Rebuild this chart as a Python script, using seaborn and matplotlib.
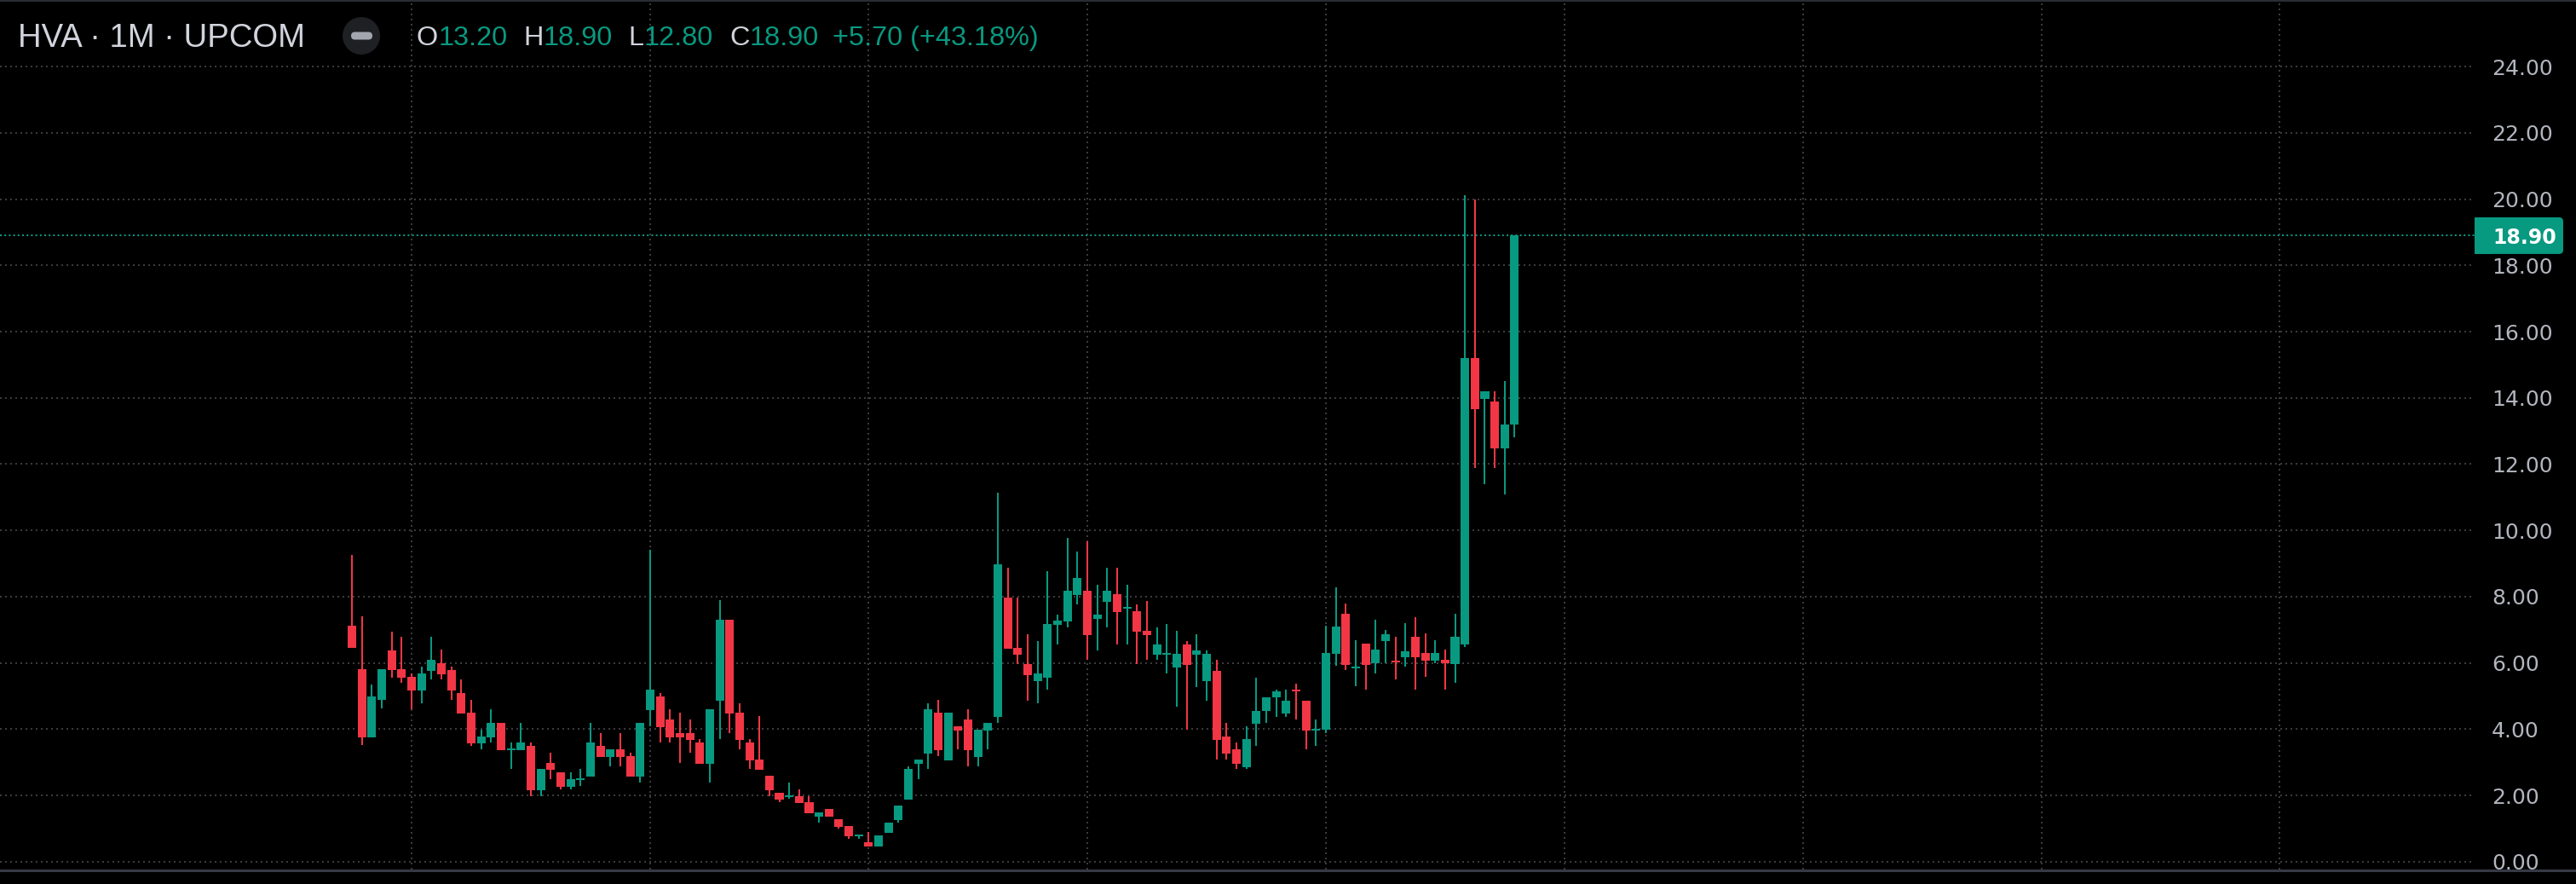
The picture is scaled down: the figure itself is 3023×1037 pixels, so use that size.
import matplotlib
matplotlib.use("Agg")
import matplotlib.pyplot as plt
import matplotlib.transforms as mtransforms
from matplotlib.patches import Circle, FancyBboxPatch, Rectangle
from matplotlib.lines import Line2D
import seaborn as sns
import numpy as np
import pandas as pd

# ---------------- data (monthly OHLC) ----------------
opens = [7.12, 5.81, 3.75, 4.88, 6.38, 5.81, 5.58, 5.17, 5.76, 5.99,
         5.79, 5.09, 4.50, 3.57, 3.75, 4.19, 3.39, 3.36, 3.49, 2.15,
         2.98, 2.70, 2.26, 2.49, 2.57, 3.49, 3.16, 3.39, 3.18, 2.57,
         4.58, 4.99, 4.29, 3.88, 3.88, 3.60, 2.95, 4.86, 7.30, 4.50,
         3.60, 3.08, 2.59, 2.08, 1.98, 1.97, 1.79, 1.36, 1.59, 1.28,
         1.07, 0.76, 0.58, 0.45, 0.87, 1.25, 1.87, 2.95, 3.26, 4.50,
         3.06, 4.09, 4.29, 3.16, 3.96, 4.36, 7.97, 6.46, 5.97, 5.46,
         5.54, 7.15, 7.26, 8.05, 8.18, 7.33, 7.85, 8.08, 7.67, 7.56,
         6.97, 6.26, 6.28, 5.85, 6.56, 6.26, 5.46, 5.77, 3.77, 3.38,
         2.85, 4.15, 4.56, 4.95, 4.46, 5.18, 4.87, 3.98, 3.97, 6.28,
         7.49, 5.85, 6.59, 5.98, 6.65, 6.07, 6.17, 6.79, 6.30, 6.06,
         6.09, 5.97, 6.56, 15.21, 13.98, 13.90, 12.48, 13.20]
highs = [9.26, 7.40, 5.35, 5.81, 6.94, 6.79, 5.68, 5.89, 6.79, 6.40,
         5.89, 5.50, 4.88, 3.99, 4.60, 4.19, 3.60, 4.19, 3.60, 2.80,
         3.29, 2.70, 2.70, 2.80, 4.19, 3.88, 3.39, 3.88, 3.29, 4.19,
         9.42, 5.09, 4.60, 4.50, 4.29, 3.70, 4.60, 7.90, 7.30, 4.78,
         3.70, 4.39, 2.59, 2.08, 2.39, 2.18, 1.97, 1.48, 1.59, 1.28,
         1.07, 0.82, 0.89, 0.79, 1.18, 1.69, 2.88, 3.08, 4.78, 4.88,
         4.50, 4.09, 4.60, 3.98, 4.19, 11.15, 8.87, 7.97, 6.87, 6.67,
         8.77, 7.46, 9.77, 9.36, 9.67, 8.36, 8.87, 8.87, 8.36, 7.77,
         7.87, 7.08, 7.18, 6.97, 6.67, 6.87, 6.38, 6.08, 4.18, 3.59,
         4.08, 5.56, 4.97, 5.18, 5.18, 5.38, 4.87, 4.28, 7.11, 8.28,
         7.80, 6.68, 6.59, 7.30, 6.99, 6.79, 7.21, 7.38, 6.90, 6.68,
         6.40, 7.49, 20.11, 20.00, 14.21, 14.21, 14.52, 18.90]
lows = [6.45, 3.52, 3.75, 4.63, 5.55, 5.40, 4.60, 4.78, 5.50, 5.50,
        4.88, 4.47, 3.49, 3.39, 3.60, 3.36, 2.80, 3.36, 1.97, 1.97,
        2.49, 2.18, 2.18, 2.28, 2.57, 3.16, 2.88, 2.88, 2.57, 2.39,
        4.09, 3.60, 3.60, 2.98, 3.29, 2.95, 2.39, 3.70, 3.88, 3.39,
        2.80, 2.77, 1.97, 1.79, 1.90, 1.77, 1.46, 1.18, 1.36, 1.00,
        0.69, 0.69, 0.45, 0.45, 0.87, 1.18, 1.87, 2.49, 2.80, 3.18,
        3.06, 3.39, 2.88, 2.88, 3.39, 4.18, 6.44, 5.97, 4.87, 4.77,
        5.18, 6.56, 7.08, 7.77, 6.08, 6.38, 7.08, 6.56, 6.56, 5.97,
        6.08, 6.08, 5.67, 4.67, 3.97, 5.28, 4.87, 3.08, 3.08, 2.79,
        2.79, 3.49, 4.18, 4.38, 4.38, 4.28, 3.38, 3.49, 3.88, 5.90,
        5.79, 5.29, 5.19, 5.68, 5.99, 5.49, 5.89, 5.19, 5.58, 5.99,
        5.19, 5.40, 6.48, 11.89, 11.39, 11.89, 11.08, 12.80]
closes = [6.45, 3.75, 4.99, 5.81, 5.79, 5.55, 5.17, 5.68, 6.09, 5.66,
          5.17, 4.47, 3.57, 3.78, 4.19, 3.36, 3.39, 3.60, 2.15, 2.80,
          2.77, 2.26, 2.49, 2.49, 3.60, 3.16, 3.39, 3.16, 2.57, 4.19,
          5.19, 4.06, 3.75, 3.75, 3.67, 2.95, 4.60, 7.30, 4.47, 3.67,
          3.06, 2.77, 2.15, 1.87, 1.98, 1.77, 1.46, 1.48, 1.36, 1.05,
          0.76, 0.82, 0.45, 0.79, 1.18, 1.69, 2.80, 3.08, 4.60, 3.36,
          4.50, 3.96, 3.36, 3.98, 4.19, 8.97, 6.44, 6.26, 5.64, 5.67,
          7.18, 7.28, 8.18, 8.56, 6.85, 7.46, 8.18, 7.54, 7.67, 6.95,
          6.85, 6.56, 6.28, 6.28, 5.95, 6.38, 6.28, 3.67, 3.26, 2.95,
          3.69, 4.56, 4.97, 5.15, 4.85, 5.16, 3.95, 3.98, 6.30, 7.10,
          5.95, 5.85, 5.95, 6.40, 6.87, 6.02, 6.36, 6.17, 6.06, 6.30,
          5.98, 6.79, 15.21, 13.67, 14.21, 12.48, 13.20, 18.90]

price_ticks = [0, 2, 4, 6, 8, 10, 12, 14, 16, 18, 20, 22, 24]
price_labels = [f"{v:.2f}" for v in price_ticks]
time_grid = [6, 30, 52, 74, 98, 122, 146, 170, 194]   # year boundaries (bar index)
symbol_text = "HVA · 1M · UPCOM"
last_price = 18.90
prev_close = 13.20

GREEN = "#089981"
RED = "#F23645"
GRID = "#3b3b3e"
TXT = "#D1D4DC"
AXT = "#B2B5BE"
HEAD_FONT = ["Liberation Sans", "DejaVu Sans"]

W, H = 3023, 1037

sns.set_theme(style="dark", rc={"axes.facecolor": "black", "figure.facecolor": "black",
                                "savefig.facecolor": "black"})
plt.rcParams["font.family"] = ["DejaVu Sans"]

fig = plt.figure(figsize=(W / 100, H / 100), dpi=100, facecolor="black")
ax = fig.add_axes([0, 17 / H, 2904 / W, 1020 / H])
ax.set_facecolor("black")

df = pd.DataFrame({"o": opens, "h": highs, "l": lows, "c": closes})
df["i"] = np.arange(len(df))
df["up"] = df["c"] >= df["o"]
df["color"] = np.where(df["up"], GREEN, RED)
lo = np.minimum(df["o"], df["c"])
hi = np.maximum(df["o"], df["c"])
minh = 0.05
height = np.maximum(hi - lo, minh)
bottom = np.where(hi - lo < minh, (hi + lo) / 2 - minh / 2, lo)

ax.vlines(df["i"], df["l"], df["h"], colors=df["color"], linewidth=1.44, zorder=3)
ax.bar(df["i"], height, bottom=bottom, width=0.86, color=df["color"], linewidth=0, zorder=4)

# price line
ax.axhline(last_price, color=GREEN, linewidth=1.44, linestyle=(0, (1, 1.6)), zorder=2)

ax.set_xlim(-35.42, 213.6)
ax.set_ylim(-0.239, 26.015)

ax.set_yticks(price_ticks)
ax.set_yticklabels(price_labels)
ax.set_xticks(time_grid)
ax.set_xticklabels([])
ax.yaxis.tick_right()
ax.tick_params(axis="y", length=0, pad=14.4, labelsize=18, labelcolor=AXT)
ax.tick_params(axis="x", length=0)
ax.grid(True, color=GRID, linewidth=1.44, linestyle=(0, (1, 2.0)))
ax.set_axisbelow(True)
for s in ax.spines.values():
    s.set_visible(False)

# borders
fig.add_artist(Line2D([0, 1], [1 - 1.2 / H, 1 - 1.2 / H], transform=fig.transFigure,
                      color="#2a2c33", linewidth=1.6, zorder=10))
fig.add_artist(Rectangle((0, 0), 1, 1 - 1022 / H, transform=fig.transFigure,
                         facecolor="black", edgecolor="none", zorder=9))
fig.add_artist(Line2D([0, 1], [1 - 1020.5 / H, 1 - 1020.5 / H], transform=fig.transFigure,
                      color="#363a45", linewidth=2.2, zorder=10))

# last price box
ident = mtransforms.IdentityTransform()
yc = ax.transData.transform((0, last_price))[1]
box = FancyBboxPatch((2904, yc - 21.5), 104, 43, boxstyle="round,pad=0,rounding_size=5",
                     transform=ident, facecolor=GREEN, edgecolor="none", zorder=11)
fig.add_artist(box)
fig.add_artist(Rectangle((2904, yc - 21.5), 20, 43, transform=ident,
                         facecolor=GREEN, edgecolor="none", zorder=11))
fig.text(2925 / W, yc / H, f"{last_price:.2f}", color="white", fontsize=17, fontweight="bold",
         ha="left", va="center_baseline", zorder=12)

# header
fig.text(21 / W, 1 - 55 / H, symbol_text, color=TXT, fontsize=27.5, family=HEAD_FONT,
         va="baseline", ha="left")
fig.add_artist(Circle((424, H - 42), 22, transform=ident, facecolor="#1f2024",
                      edgecolor="none", zorder=11))
fig.add_artist(FancyBboxPatch((412, H - 46.5), 25, 9, boxstyle="round,pad=0,rounding_size=4.5",
                              transform=ident, facecolor="#a3a6af", edgecolor="none", zorder=12))

chg = last_price - prev_close
pct = chg / prev_close * 100
parts = [("O", TXT, 0), (f"{opens[-1]:.2f}", GREEN, 19),
         ("H", TXT, 0), (f"{highs[-1]:.2f}", GREEN, 19),
         ("L", TXT, 0), (f"{lows[-1]:.2f}", GREEN, 19),
         ("C", TXT, 0), (f"{closes[-1]:.2f}", GREEN, 16),
         (f"{chg:+.2f} ({pct:+.2f}%)", GREEN, 0)]
renderer = fig.canvas.get_renderer()
x = 489
for txt, col, gap in parts:
    t = fig.text(x / W, 1 - 53 / H, txt, color=col, fontsize=23.3, family=HEAD_FONT,
                 va="baseline", ha="left")
    bb = t.get_window_extent(renderer)
    x = bb.x1 + gap

fig.savefig("out.png", dpi=100, facecolor="black")
